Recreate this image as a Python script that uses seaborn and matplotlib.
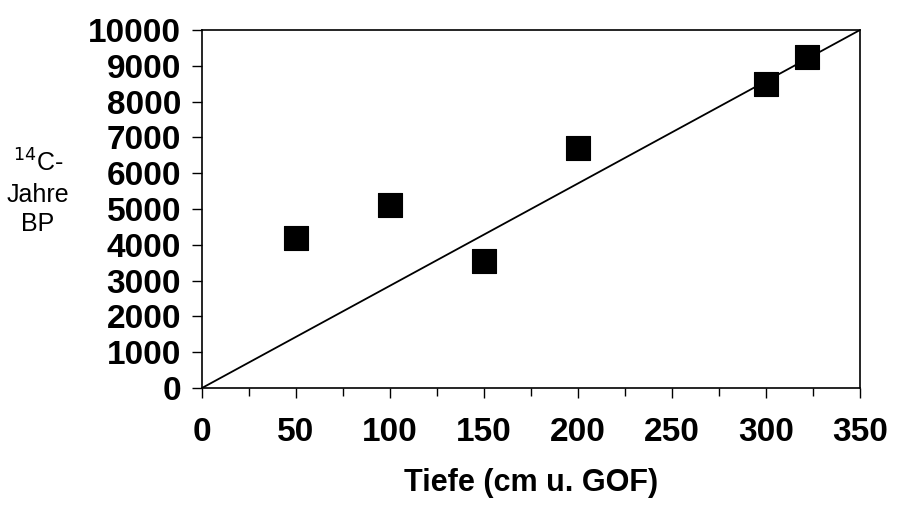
import matplotlib
matplotlib.use("Agg")
import matplotlib.pyplot as plt
import seaborn as sns
import pandas as pd
from matplotlib.ticker import MultipleLocator

depth = [50, 100, 150, 200, 300, 322]
age = [4200, 5100, 3550, 6700, 8500, 9250]
line_x = [0, 350]
line_y = [0, 10000]
xticks = [0, 50, 100, 150, 200, 250, 300, 350]
yticks = list(range(0, 10001, 1000))

sns.set_style("white")
plt.rcParams['font.family'] = ['Liberation Sans', 'DejaVu Sans']
plt.rcParams['text.color'] = 'black'
plt.rcParams['axes.labelcolor'] = 'black'
plt.rcParams['xtick.color'] = 'black'
plt.rcParams['ytick.color'] = 'black'

fig = plt.figure(figsize=(8.99, 5.05), dpi=100)
ax = fig.add_axes([202/899, 1 - 388/505, (860-202)/899, (388-30)/505])

df = pd.DataFrame({"x": depth, "y": age})
sns.lineplot(x=line_x, y=line_y, ax=ax, color="black", linewidth=1.3)
sns.scatterplot(data=df, x="x", y="y", ax=ax, marker="s", s=290, color="black",
                edgecolor="black", linewidth=0.8, zorder=3)

ax.set_xlim(0, 350)
ax.set_ylim(0, 10000)
ax.set_xticks(xticks)
ax.set_yticks(yticks)
ax.xaxis.set_minor_locator(MultipleLocator(25))
ax.tick_params(axis="both", which="major", direction="out", length=7, width=1,
               labelsize=24, color="black", labelcolor="black", left=True, bottom=True)
ax.tick_params(axis="x", which="minor", direction="out", length=6, width=1,
               bottom=True, color="black")
ax.tick_params(axis="x", pad=14)
ax.tick_params(axis="y", pad=8)
for lab in ax.get_xticklabels() + ax.get_yticklabels():
    lab.set_fontweight("bold")
for s in ax.spines.values():
    s.set_visible(True)
    s.set_color("black")
    s.set_linewidth(1.2)

ax.set_xlabel("Tiefe (cm u. GOF)", fontsize=22, fontweight="bold", labelpad=14,
              color="black")
ax.set_ylabel("")
fig.text(38/899, 1 - 193/505, "$^{14}$C-\nJahre\nBP", fontsize=18, ha="center",
         va="center", linespacing=1.3, color="black")

fig.savefig("out.png", dpi=100)
